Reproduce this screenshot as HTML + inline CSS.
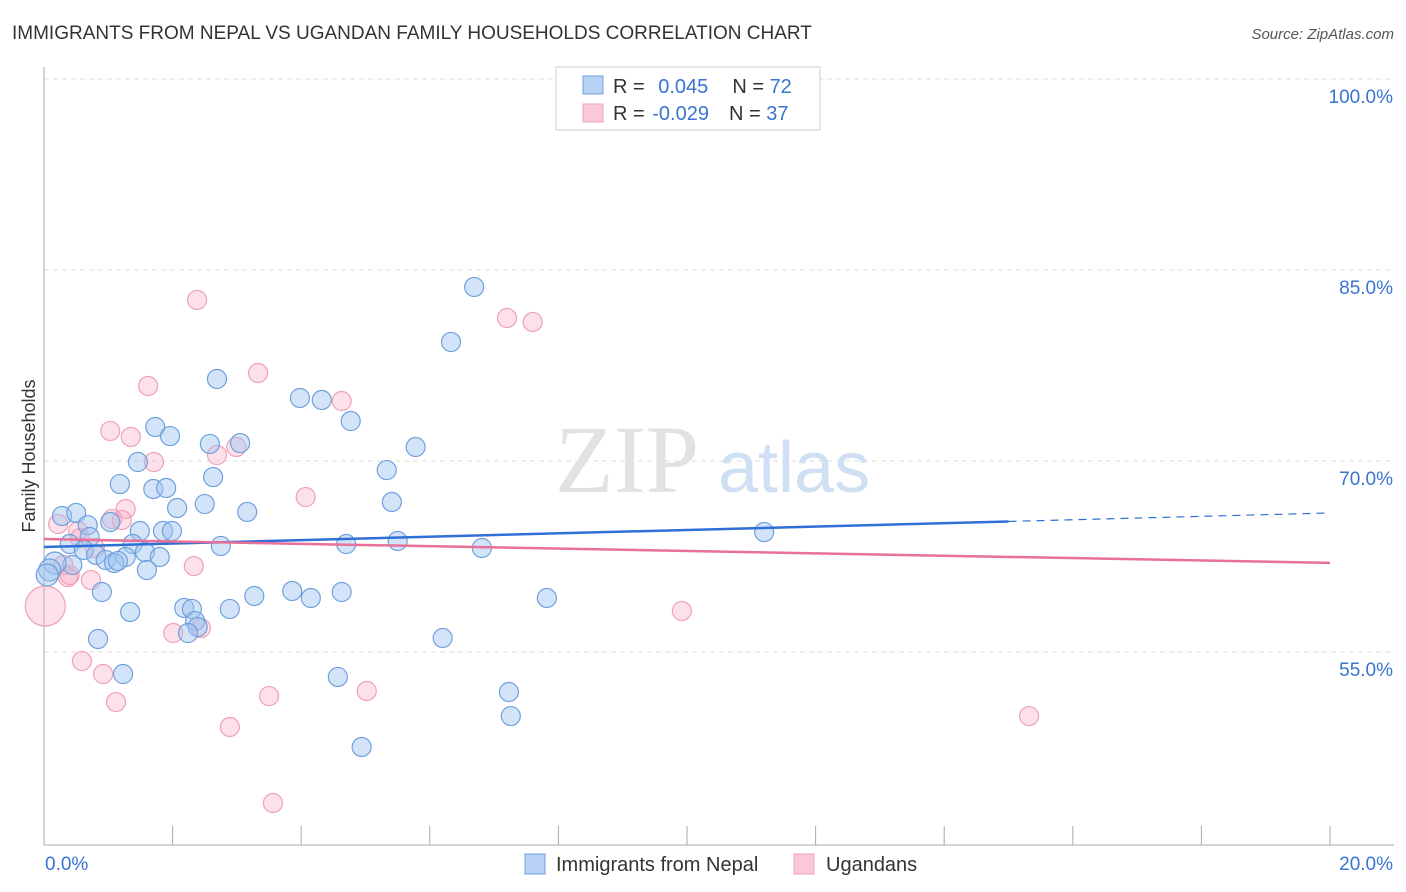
<!DOCTYPE html>
<html><head><meta charset="utf-8"><style>
body{margin:0;background:#fff;font-family:"Liberation Sans",sans-serif;}
#wrap{position:relative;width:1406px;height:892px;overflow:hidden;}
</style></head><body>
<div id="wrap">
<svg id="svg" width="1406" height="892" xmlns="http://www.w3.org/2000/svg">
<text x="12" y="39" font-size="19" fill="#333">IMMIGRANTS FROM NEPAL VS UGANDAN FAMILY HOUSEHOLDS CORRELATION CHART</text>
<text x="1394" y="39" font-size="15" fill="#555" font-style="italic" text-anchor="end">Source: ZipAtlas.com</text>
<text x="35" y="456" font-size="18" fill="#333" text-anchor="middle" transform="rotate(-90 35 456)">Family Households</text>
<g id="grid"></g>
<text x="555" y="492" font-size="96" fill="#e2e2e2" font-family="Liberation Serif,serif">ZIP</text>
<text x="718" y="492" font-size="72" fill="#d0e0f4">atlas</text>
<g id="pts"></g>
<g id="lines"></g>
<g>
<rect x="556" y="67" width="264" height="63" fill="#fff" stroke="#ccc"/>
<rect x="583" y="76" width="20" height="18" fill="#b8d2f5" stroke="#6fa0dd"/>
<rect x="583" y="104" width="20" height="18" fill="#fbc8d8" stroke="#f0a0b8"/>
<text x="613" y="93" font-size="20" fill="#333">R = <tspan fill="#3a74d0" dx="8">0.045</tspan><tspan dx="24" fill="#333">N = </tspan><tspan fill="#3a74d0">72</tspan></text>
<text x="613" y="120" font-size="20" fill="#333">R = <tspan fill="#3a74d0" dx="2">-0.029</tspan><tspan dx="20" fill="#333">N = </tspan><tspan fill="#3a74d0">37</tspan></text>
</g>
<g>
<rect x="525" y="854" width="20" height="20" fill="#b8d2f5" stroke="#6fa0dd"/>
<text x="556" y="871" font-size="20" fill="#333">Immigrants from Nepal</text>
<rect x="794" y="854" width="20" height="20" fill="#fbc8d8" stroke="#f0a0b8"/>
<text x="826" y="871" font-size="20" fill="#333">Ugandans</text>
</g>
</svg>
</div>
<script>
const yTicks=[55,70,85,100];
const yTickLabels=["55.0%","70.0%","85.0%","100.0%"];
const xTickLabels=["0.0%","20.0%"];
const nepalX=[6.69,6.33,2.69,3.98,4.32,4.77,1.73,1.96,2.58,3.05,5.78,1.46,5.33,2.63,1.18,1.70,1.90,5.41,2.50,2.07,3.16,0.28,0.50,0.68,1.03,1.49,1.85,1.99,11.20,0.71,0.40,2.75,4.70,5.50,6.81,1.38,0.62,0.81,1.27,1.57,1.80,0.96,1.09,1.15,0.44,0.17,0.09,0.05,1.60,0.90,3.86,3.27,4.15,4.63,7.82,1.34,2.18,2.30,2.89,2.35,2.39,2.24,0.84,6.20,1.23,4.57,7.23,7.26,4.94];
const nepalY=[83.67,79.35,76.44,74.95,74.79,73.14,72.67,71.96,71.34,71.41,71.10,69.92,69.29,68.74,68.19,67.80,67.88,66.78,66.62,66.31,66.00,65.68,65.92,64.97,65.21,64.50,64.50,64.50,64.42,64.03,63.48,63.33,63.48,63.72,63.17,63.48,63.01,62.62,62.46,62.85,62.46,62.23,61.99,62.15,61.83,61.99,61.44,61.05,61.44,59.71,59.79,59.40,59.24,59.71,59.24,58.14,58.46,58.38,58.38,57.43,56.96,56.49,56.02,56.10,53.27,53.04,51.86,49.97,47.54];
const ugX=[2.38,7.20,7.60,3.33,1.62,4.63,1.03,1.35,2.99,2.69,1.71,4.07,1.27,1.21,1.06,0.22,0.53,0.79,0.56,0.30,0.40,0.37,0.73,2.33,0.02,9.92,2.01,2.44,0.59,0.92,1.12,3.50,5.02,2.89,15.32,3.56];
const ugY=[82.65,81.23,80.92,76.91,75.89,74.71,72.36,71.89,71.10,70.47,69.92,67.17,66.23,65.37,65.45,65.05,64.50,63.17,63.95,61.83,61.05,60.89,60.65,61.75,58.61,58.22,56.49,56.88,54.29,53.27,51.07,51.54,51.94,49.11,49.97,43.14];
const trendNepal=[63.25,65.92];
const trendUg=[63.87,62.0];
const nepalSolidEnd=15.0;
const NS="http://www.w3.org/2000/svg";
const X=v=>44+v/20*1286;
const Y=v=>652-(v-55)*12.733;
function mk(t,a,p){const e=document.createElementNS(NS,t);for(const k in a)e.setAttribute(k,a[k]);p.appendChild(e);return e;}
const grid=document.getElementById('grid');
yTicks.forEach((t,i)=>{
 const g=mk('line',{x1:44,x2:1394,y1:Y(t),y2:Y(t),stroke:'#ddd','stroke-dasharray':'5,4'},grid);
 
 
 const l=mk('text',{x:1393,y:Y(t)+24,'font-size':19,fill:'#3a74d0','text-anchor':'end'},grid);
 l.textContent=yTickLabels[i];
 
 
});
const ax=mk('line',{x1:44,x2:44,y1:67,y2:845,stroke:'#aaa'},grid);


const bx=mk('line',{x1:44,x2:1394,y1:845,y2:845,stroke:'#aaa'},grid);


for(let i=0;i<=10;i++){
 const t=mk('line',{x1:X(i*2),x2:X(i*2),y1:826,y2:845,stroke:'#aaa'},grid);
 
 
}
[[0,'start',45],[20,'end',1393]].forEach((d,i)=>{
 const l=mk('text',{x:d[2],y:870,'font-size':19,fill:'#3a74d0','text-anchor':d[1]},grid);
 l.textContent=xTickLabels[i];
 
 
});
const pts=document.getElementById('pts');
ugX.forEach((x,i)=>{
 const r=(i===24)?20:9.5;
 const c=mk('circle',{cx:X(x),cy:Y(ugY[i]),r:r,fill:'rgba(246,170,195,0.35)',stroke:'#f0a0b8','stroke-width':1.2},pts);
 
 
});
nepalX.forEach((x,i)=>{
 const r=(i>=45&&i<=47)?11:9.5;
 const c=mk('circle',{cx:X(x),cy:Y(nepalY[i]),r:r,fill:'rgba(160,196,240,0.45)',stroke:'#6fa0dd','stroke-width':1.2},pts);
 
 
});
const lines=document.getElementById('lines');
const yAt=(tr,x)=>tr[0]+(tr[1]-tr[0])*x/20;
let l1=mk('line',{x1:X(0),y1:Y(trendNepal[0]),x2:X(nepalSolidEnd),y2:Y(yAt(trendNepal,nepalSolidEnd)),stroke:'#2f6fd6','stroke-width':2.5},lines);


let l2=mk('line',{x1:X(nepalSolidEnd),y1:Y(yAt(trendNepal,nepalSolidEnd)),x2:X(20),y2:Y(trendNepal[1]),stroke:'#2f6fd6','stroke-width':1.2,'stroke-dasharray':'8,6'},lines);


let l3=mk('line',{x1:X(0),y1:Y(trendUg[0]),x2:X(20),y2:Y(trendUg[1]),stroke:'#e8709a','stroke-width':2.5},lines);


</script>
</body></html>
